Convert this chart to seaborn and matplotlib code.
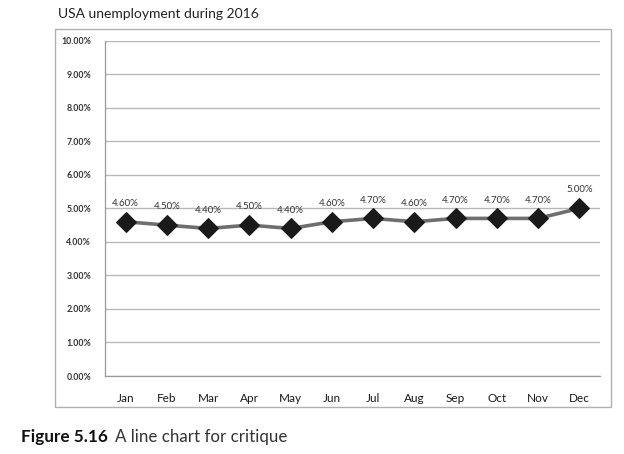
import matplotlib
matplotlib.use("Agg")
import matplotlib.pyplot as plt
from matplotlib.patches import Rectangle
from matplotlib.ticker import FixedLocator, FuncFormatter
import seaborn as sns
import pandas as pd
import numpy as np

months = ["Jan", "Feb", "Mar", "Apr", "May", "Jun", "Jul", "Aug", "Sep", "Oct", "Nov", "Dec"]
rates = [4.6, 4.5, 4.4, 4.5, 4.4, 4.6, 4.7, 4.6, 4.7, 4.7, 4.7, 5.0]
y_ticks = [0, 1, 2, 3, 4, 5, 6, 7, 8, 9, 10]
title = "USA unemployment during 2016"
caption_bold = "Figure 5.16"
caption_rest = "A line chart for critique"

sns.set_theme(style="white")
plt.rcParams['font.family'] = ['Lato', 'DejaVu Sans']

df = pd.DataFrame({"month": months, "rate": rates})

fig = plt.figure(figsize=(6.24, 4.54), dpi=100)
W, H = 624, 454
ax = fig.add_axes([105 / W, 1 - 376 / H, (600 - 105) / W, (376 - 40.7) / H])

sns.lineplot(data=df, x="month", y="rate", sort=False, ax=ax, color="#6e6e6e",
             linewidth=2.6, marker="D", markersize=10.5, markerfacecolor="#1a1a1a",
             markeredgecolor="#1a1a1a", zorder=3)

ax.set_xlim(-0.5, len(months) - 0.5)
ax.set_ylim(0, 10)
ax.set_yticks(y_ticks)
ax.yaxis.set_major_formatter(FuncFormatter(lambda v, p: f"{v:.2f}%"))
ax.set_xticks(range(len(months)))
ax.set_xticklabels(months)
ax.xaxis.set_minor_locator(FixedLocator(np.arange(-0.5, len(months), 1.0)))
ax.tick_params(axis="x", which="major", length=0, pad=12, labelsize=8.5, labelcolor="#1a1a1a")
ax.tick_params(axis="x", which="minor", length=4, width=0.8, color="#9a9a9a", direction="out")
ax.tick_params(axis="y", which="major", length=4, width=0.8, color="#9a9a9a", direction="out",
               pad=6, labelsize=6.3, labelcolor="#333333")
for lab in ax.get_yticklabels():
    lab.set_fontweight("bold")

ax.set_xlabel("")
ax.set_ylabel("")
ax.grid(axis="y", color="#b8b8b8", linewidth=1.0)
ax.set_axisbelow(True)
for s in ["top", "right"]:
    ax.spines[s].set_visible(False)
for s in ["left", "bottom"]:
    ax.spines[s].set_color("#9a9a9a")
    ax.spines[s].set_linewidth(0.9)

for i, v in enumerate(rates):
    ax.annotate(f"{v:.2f}%", (i, v), xytext=(0, 10), textcoords="offset points",
                ha="center", va="bottom", fontsize=7, color="#333333")

# outer chart border
fig.patches.append(Rectangle((55 / W, 1 - 407 / H), (611 - 55) / W, (407 - 29) / H,
                             transform=fig.transFigure, fill=False,
                             edgecolor="#b0b0b0", linewidth=1.0))

fig.text(58 / W, 1 - 14 / H, title, fontsize=10, color="#222222", va="center", ha="left")
t = fig.text(21 / W, 1 - 437 / H, caption_bold, fontsize=12.3, fontweight="bold",
             color="#111111", va="center", ha="left")
fig.canvas.draw()
bb = t.get_window_extent()
fig.text((bb.x1 + 7) / W, 1 - 437 / H, caption_rest, fontsize=12.2, color="#333333",
         va="center", ha="left")

fig.savefig("out.png", dpi=100)
